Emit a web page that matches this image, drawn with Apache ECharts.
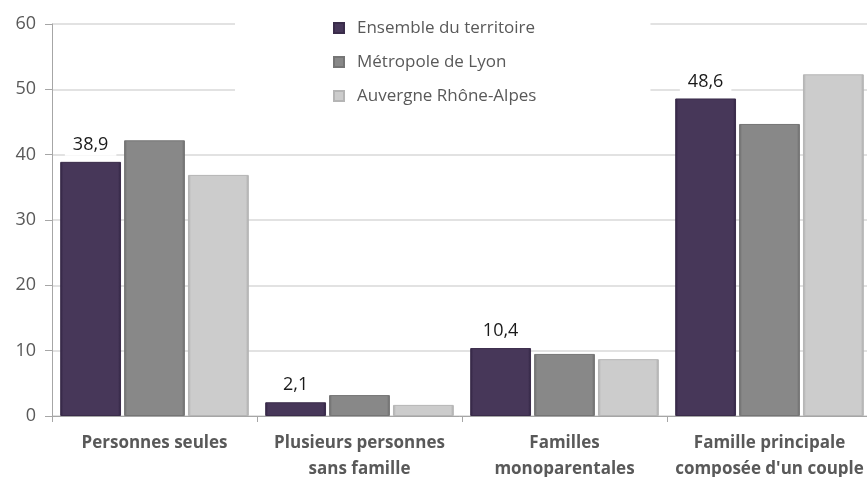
<!DOCTYPE html>
<html>
<head>
<meta charset="utf-8">
<script src="https://cdn.jsdelivr.net/npm/echarts@6/dist/echarts.min.js"></script>
<style>
  html, body { margin: 0; padding: 0; background: #fff; }
  #main { width: 867px; height: 477px; }
</style>
</head>
<body>
<div id="main"></div>
<script>
// données
var categories = ['Personnes seules', 'Plusieurs personnes\nsans famille', 'Familles\nmonoparentales', 'Famille principale\ncomposée d\'un couple']
var ensemble = [38.9, 2.1, 10.4, 48.6]
var metropole = [42.2, 3.2, 9.5, 44.7]
var auvergne = [36.9, 1.7, 8.7, 52.3]
var seriesNames = ['Ensemble du territoire', 'Métropole de Lyon', 'Auvergne Rhône-Alpes']

var FONT = 'Open Sans'

function bevel(base, edge) {
    return {
        type: 'linear', x: 0, y: 0, x2: 1, y2: 0,
        colorStops: [
            { offset: 0, color: edge },
            { offset: 0.05, color: base },
            { offset: 0.95, color: base },
            { offset: 1, color: edge }
        ]
    }
}

var chart = echarts.init(document.getElementById('main'))
chart.setOption({
    animation: false,
    backgroundColor: '#fff',
    textStyle: { fontFamily: FONT },
    grid: { left: 52, right: -5, top: 24, bottom: 61, outerBoundsMode: 'none', containLabel: false },
    legend: {
        orient: 'vertical',
        left: 235,
        top: 10,
        backgroundColor: '#fff',
        padding: [9, 114, 9, 98],
        itemGap: 16,
        itemWidth: 10,
        itemHeight: 10,
        icon: 'rect',
        textStyle: { fontFamily: FONT, fontSize: 17, color: '#595959', lineHeight: 18, padding: [0, 0, 0, 8] },
        data: seriesNames
    },
    xAxis: {
        type: 'category',
        data: categories,
        axisLine: { lineStyle: { color: '#a6a6a6' } },
        axisTick: { show: true, length: 6, lineStyle: { color: '#a6a6a6' } },
        axisLabel: { interval: 0, fontFamily: FONT, fontSize: 17, fontWeight: 'bold', color: '#595959', lineHeight: 26, margin: 14 }
    },
    yAxis: {
        type: 'value',
        min: 0,
        max: 60,
        interval: 10,
        axisLine: { show: true, lineStyle: { color: '#a6a6a6' } },
        axisTick: { show: true, length: 7, lineStyle: { color: '#a6a6a6' } },
        axisLabel: { fontFamily: FONT, fontSize: 18, color: '#595959', margin: 16 },
        splitLine: { lineStyle: { color: '#d9d9d9', width: 1.5 } }
    },
    series: [
        {
            name: seriesNames[0],
            type: 'bar',
            data: ensemble,
            barGap: '5%',
            barCategoryGap: '8%',
            itemStyle: { color: bevel('#473759', '#2e2240'), borderColor: '#3a2c4a', borderWidth: 1 },
            label: {
                show: true,
                position: 'top',
                distance: 6,
                formatter: function (p) { return String(p.value).replace('.', ',') },
                fontFamily: FONT, fontSize: 18, color: '#1a1a1a',
                backgroundColor: '#fff', padding: [2, 8]
            },
            z: 3
        },
        {
            name: seriesNames[1],
            type: 'bar',
            data: metropole,
            itemStyle: { color: bevel('#888888', '#6a6a6a'), borderColor: '#757575', borderWidth: 1 }
        },
        {
            name: seriesNames[2],
            type: 'bar',
            data: auvergne,
            itemStyle: { color: bevel('#cccccc', '#a9a9a9'), borderColor: '#b5b5b5', borderWidth: 1 }
        }
    ]
})
</script>
</body>
</html>
